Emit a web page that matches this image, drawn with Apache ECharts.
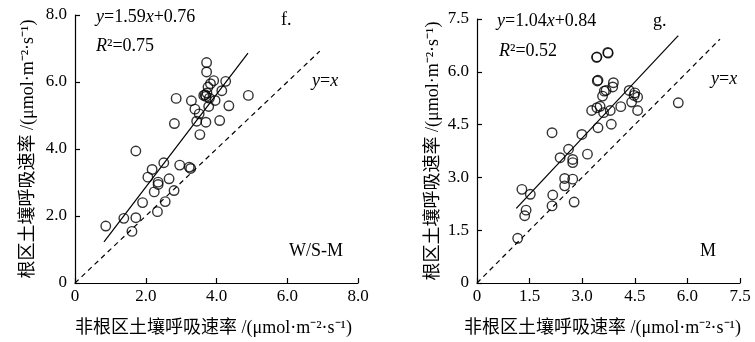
<!DOCTYPE html>
<html><head><meta charset="utf-8">
<script src="https://cdn.jsdelivr.net/npm/echarts@6/dist/echarts.min.js"></script>
<style>html,body{margin:0;padding:0;background:#fff}#c{width:755px;height:342px}</style>
</head><body><div id="c"></div>
<script>
// Left panel (W/S-M): non-rhizosphere (x) vs rhizosphere (y) soil respiration
const leftX = [0.87,1.38,1.72,1.61,1.72,1.91,2.06,2.18,2.24,2.33,2.35,2.35,2.51,2.55,2.66,2.80,2.81,2.86,2.96,3.23,3.27,3.29,3.39,3.44,3.51,3.53,3.70,3.72,3.72,3.64,3.70,3.73,3.76,3.78,3.83,3.92,3.80,3.96,4.09,4.15,4.26,4.35,4.90,3.68];
const leftY = [1.70,1.93,1.95,1.54,3.94,2.40,3.16,3.39,2.72,2.13,3.01,2.94,3.59,2.43,3.11,2.76,4.76,5.51,3.52,3.46,3.42,5.44,5.19,4.83,5.05,4.43,4.80,6.58,6.30,5.60,5.57,5.67,5.85,5.27,5.95,6.04,5.52,5.45,4.85,5.74,6.02,5.29,5.60,5.62];
// Right panel (M)
const rightX = [1.16,1.28,1.40,1.36,1.52,2.14,2.16,2.14,2.37,2.50,2.50,2.61,2.73,2.73,2.73,2.77,2.99,3.15,3.27,3.42,3.45,3.45,3.42,3.51,3.61,3.58,3.63,3.68,3.73,3.80,3.83,3.89,3.87,4.10,4.34,4.41,4.50,4.48,4.58,4.58,5.74,3.43,3.41,3.74];
const rightY = [1.27,2.66,2.07,1.91,2.52,4.27,2.50,2.19,3.56,2.97,2.76,3.80,3.51,3.42,2.95,2.30,4.22,3.66,4.90,6.42,5.76,4.41,4.98,5.02,4.84,5.31,5.45,5.47,6.55,4.90,4.51,5.69,5.57,5.01,5.47,5.14,5.40,5.33,5.28,4.90,5.12,5.74,6.41,6.53];
// Fitted lines as drawn (endpoints) and 1:1 lines
const leftFit = [[0.82,1.23],[4.89,6.86]];
const rightFit = [[1.12,2.12],[5.74,7.03]];
const leftOneToOne = [[0,0],[6.92,6.92]];
const rightOneToOne = [[0,0],[6.93,6.93]];
// Axis settings
const leftXTicks = {min:0,max:8,interval:2};
const leftYTicks = {min:0,max:8,interval:2};
const rightXTicks = {min:0,max:7.5,interval:1.5};
const rightYTicks = {min:0,max:7.5,interval:1.5};
const yName = '根区土壤呼吸速率 /(μmol·m⁻²·s⁻¹)';
const xName = '非根区土壤呼吸速率 /(μmol·m⁻²·s⁻¹)';

const FONT = "'Liberation Serif', 'Noto Sans CJK SC', serif";
const fmt = v => v === 0 ? '0' : v.toFixed(1);
function axisBase(t, gridIndex) {
  return Object.assign({
    gridIndex, type:'value',
    axisLine:{show:true,onZero:false,lineStyle:{color:'#000',width:1.2}},
    axisTick:{show:true,inside:true,length:5,lineStyle:{color:'#000',width:1.2}},
    splitLine:{show:false},
    nameLocation:'middle'
  }, t);
}
const zip = (a,b) => a.map((v,i)=>[v,b[i]]);
const lbl = m => ({color:'#000',fontFamily:FONT,fontSize:17,formatter:fmt,margin:m});
const nm = pad => ({color:'#000',fontFamily:FONT,fontSize:18,padding:pad});

const chart = echarts.init(document.getElementById('c'), null, {renderer:'canvas'});
const richStyles = {
  i:{font:"italic 18px 'Liberation Serif'",fontSize:18,fontStyle:'italic',fontFamily:'Liberation Serif'},
  n:{font:"18px 'Liberation Serif'",fontSize:18,fontFamily:'Liberation Serif'}
};
function txt(x,y,text){
  return {type:'text',left:x,top:y,style:{text,font:"18px 'Liberation Serif'",fontSize:18,fontFamily:'Liberation Serif',fill:'#000',rich:richStyles}};
}
chart.setOption({
  animation:false,
  grid:[
    {left:75,top:15,width:283,height:269},
    {left:477,top:19,width:263,height:265}
  ],
  xAxis:[
    axisBase(Object.assign({name:xName,nameGap:36,axisLabel:lbl(5),nameTextStyle:nm([0,6,0,0])},leftXTicks),0),
    axisBase(Object.assign({name:xName,nameGap:36,axisLabel:lbl(5),nameTextStyle:nm([0,12,0,0])},rightXTicks),1)
  ],
  yAxis:[
    axisBase(Object.assign({name:yName,nameGap:38,nameRotate:90,axisLabel:lbl(8),nameTextStyle:nm(0)},leftYTicks),0),
    axisBase(Object.assign({name:yName,nameGap:35,nameRotate:90,axisLabel:lbl(8),nameTextStyle:nm(0)},rightYTicks),1)
  ],
  series:[
    {type:'line',xAxisIndex:0,yAxisIndex:0,data:leftOneToOne,symbol:'none',lineStyle:{color:'#000',width:1.2,type:[5,4]}},
    {type:'line',xAxisIndex:0,yAxisIndex:0,data:leftFit,symbol:'none',lineStyle:{color:'#000',width:1.2}},
    {type:'scatter',xAxisIndex:0,yAxisIndex:0,data:zip(leftX,leftY),symbol:'circle',symbolSize:9.5,itemStyle:{color:'rgba(0,0,0,0)',borderColor:'#000',borderWidth:1.4}},
    {type:'line',xAxisIndex:1,yAxisIndex:1,data:rightOneToOne,symbol:'none',lineStyle:{color:'#000',width:1.2,type:[5,4]}},
    {type:'line',xAxisIndex:1,yAxisIndex:1,data:rightFit,symbol:'none',lineStyle:{color:'#000',width:1.2}},
    {type:'scatter',xAxisIndex:1,yAxisIndex:1,data:zip(rightX,rightY),symbol:'circle',symbolSize:9.5,itemStyle:{color:'rgba(0,0,0,0)',borderColor:'#000',borderWidth:1.4}}
  ],
  graphic:[
    txt(96,8,'{i|y}{n|=1.59}{i|x}{n|+0.76}'),
    txt(96,37,'{i|R}{n|²=0.75}'),
    txt(281,11,'f.'),
    txt(289,242,'W/S-M'),
    txt(312,72,'{i|y}{n|=}{i|x}'),
    txt(497,12,'{i|y}{n|=1.04}{i|x}{n|+0.84}'),
    txt(499,42,'{i|R}{n|²=0.52}'),
    txt(653,12,'g.'),
    txt(700,242,'M'),
    txt(711,70,'{i|y}{n|=}{i|x}')
  ]
});
</script></body></html>
